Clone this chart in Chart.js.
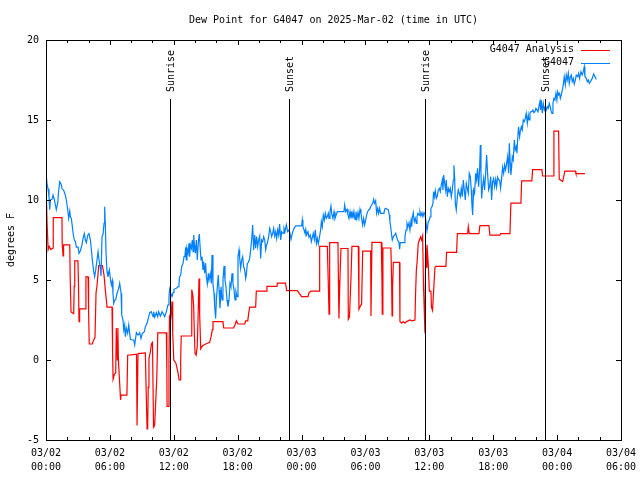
<!DOCTYPE html>
<html>
<head>
<meta charset="UTF-8">
<title>Dew Point for G4047</title>
<script src="https://cdn.jsdelivr.net/npm/chart.js@4.4.1/dist/chart.umd.min.js"></script>
<style>
  body { margin: 0; background: #fff; overflow: hidden; }
</style>
</head>
<body>
<canvas id="myChart" width="640" height="480"></canvas>
<script>
	// hours after 03/02 00:00 UTC
	let analysisTimes = [0.03,0.10,0.20,0.30,0.45,0.66,0.68,1.50,1.52,1.60,1.65,2.23,2.27,2.35,2.60,2.65,2.70,3.00,3.06,3.10,3.16,3.70,3.75,3.95,4.00,4.06,4.35,4.45,4.60,4.70,4.80,4.95,5.30,5.45,5.57,5.73,6.20,6.25,6.30,6.42,6.55,6.60,6.70,6.75,6.80,6.98,7.00,7.05,7.60,7.67,8.42,8.50,8.55,8.60,8.64,9.33,9.40,9.49,9.55,9.60,9.67,9.80,9.90,10.00,10.10,10.20,10.40,10.50,11.30,11.35,11.37,11.50,11.55,11.60,11.70,11.84,11.90,12.00,12.20,12.40,12.50,12.60,12.65,12.70,13.65,13.68,13.70,13.80,13.87,13.93,14.00,14.10,14.20,14.28,14.37,14.43,14.53,14.70,15.00,15.37,15.50,15.62,15.68,16.62,16.69,17.62,17.75,17.88,18.03,18.66,18.75,18.95,19.03,19.13,19.69,19.75,20.69,20.75,21.69,21.73,22.50,22.60,23.60,23.80,24.00,24.60,24.70,24.85,25.64,25.67,25.73,26.42,26.50,26.58,26.64,27.42,27.46,27.51,27.60,27.70,28.36,28.39,28.50,28.64,28.73,29.33,29.39,29.55,29.64,29.74,30.49,30.52,30.61,31.49,31.55,31.58,31.64,32.39,32.46,32.50,32.55,32.62,33.20,33.24,33.40,33.55,33.70,33.85,34.18,34.40,34.65,34.71,34.78,34.85,34.96,35.18,35.28,35.37,35.45,35.59,35.65,35.70,35.78,35.90,36.00,36.15,36.20,36.30,36.40,36.53,36.62,37.56,37.62,38.56,38.63,39.60,39.66,39.75,40.66,40.75,41.60,41.69,42.63,42.70,43.57,43.66,44.60,44.67,45.63,45.70,46.57,46.64,47.64,47.70,48.14,48.20,48.52,48.73,49.71,49.77,50.61];
	let analysisDew = [10.3,8.6,6.9,7.1,6.9,7.0,8.9,8.9,7.3,6.5,7.2,7.2,5.2,3.0,2.9,4.6,6.2,6.2,4.4,2.4,3.2,3.2,5.2,5.2,3.0,1.0,1.0,1.2,1.4,4.2,4.7,5.9,5.9,5.3,4.4,3.3,3.3,0.6,-1.2,-0.9,-0.8,2.0,0.0,2.0,0.0,-2.2,-2.5,-2.2,-2.2,0.3,0.35,0.35,-4.1,-4.1,0.4,0.45,-1.7,-4.3,-4.2,-1.7,0.1,0.5,1.0,1.1,-4.2,-4.1,-1.2,1.7,1.7,-0.6,-2.9,-2.9,0.1,2.7,2.5,3.65,1.7,0.0,-0.2,-0.8,-1.25,-1.25,0.1,1.5,1.5,2.9,4.4,4.0,3.3,1.7,0.4,0.3,0.8,2.6,5.1,2.9,0.7,0.9,1.0,1.1,1.45,1.9,2.4,2.4,2.0,2.0,2.2,2.45,2.25,2.25,2.45,2.45,2.9,3.3,3.3,4.3,4.3,4.6,4.6,4.8,4.8,4.33,4.33,4.15,3.96,3.96,4.2,4.3,4.3,5.7,7.1,7.1,5.1,2.86,7.33,7.33,5.0,2.6,5.0,6.97,6.97,2.55,2.7,5.1,7.1,7.1,3.17,3.4,3.5,6.8,6.8,2.75,7.35,7.35,5.0,2.86,7.0,7.0,4.9,2.75,4.6,6.1,6.1,2.4,2.3,2.4,2.3,2.4,2.5,2.45,2.5,4.2,5.6,6.1,7.3,7.7,7.5,7.75,4.7,1.67,7.0,5.8,7.2,6.0,4.3,4.3,3.3,3.1,4.3,5.8,5.85,5.85,6.73,6.73,7.9,7.9,8.33,7.9,7.9,8.4,8.4,7.8,7.8,7.9,7.9,9.8,9.8,11.2,11.2,11.9,11.9,11.5,11.5,14.3,14.3,11.3,11.15,11.8,11.8,11.65,11.65];

	let obsTimes = [0.03,0.10,0.19,0.28,0.35,0.41,0.57,0.66,0.79,0.88,0.97,1.10,1.19,1.29,1.41,1.51,1.66,1.82,1.91,2.04,2.13,2.23,2.29,2.38,2.48,2.54,2.66,2.76,2.85,3.01,3.10,3.23,3.38,3.48,3.60,3.70,3.79,3.92,4.04,4.17,4.26,4.35,4.48,4.57,4.67,4.79,4.89,4.98,5.10,5.17,5.26,5.36,5.45,5.51,5.57,5.64,5.73,5.82,5.95,6.04,6.14,6.23,6.29,6.36,6.45,6.54,6.67,6.83,6.92,7.05,7.11,7.23,7.30,7.39,7.45,7.55,7.67,7.77,7.86,7.92,8.08,8.24,8.33,8.39,8.49,8.64,8.80,8.92,9.05,9.24,9.33,9.49,9.58,9.74,9.89,10.05,10.11,10.21,10.36,10.49,10.58,10.74,10.90,11.15,11.30,11.46,11.55,11.61,11.71,11.83,11.93,12.02,12.24,12.40,12.49,12.55,12.65,12.74,12.87,12.96,13.05,13.12,13.18,13.24,13.34,13.43,13.49,13.56,13.65,13.74,13.81,13.87,13.93,14.03,14.12,14.21,14.31,14.40,14.49,14.56,14.65,14.74,14.81,14.90,14.99,15.06,15.15,15.25,15.31,15.43,15.53,15.59,15.68,15.78,15.84,15.93,16.00,16.09,16.18,16.25,16.34,16.44,16.53,16.62,16.72,16.81,16.90,17.00,17.09,17.19,17.28,17.37,17.47,17.56,17.66,17.75,17.84,17.94,18.03,18.13,18.19,18.28,18.38,18.47,18.56,18.66,18.75,18.81,18.91,19.00,19.13,19.22,19.31,19.41,19.50,19.60,19.69,19.78,19.88,19.97,20.07,20.16,20.25,20.35,20.44,20.54,20.63,20.72,20.82,20.91,21.01,21.10,21.19,21.29,21.38,21.48,21.57,21.66,21.76,21.85,21.94,22.04,22.13,22.26,22.35,22.44,22.57,22.69,22.82,22.91,23.01,23.13,23.23,23.35,23.45,24.01,24.07,24.13,24.23,24.32,24.39,24.48,24.60,24.70,24.82,24.92,25.01,25.10,25.20,25.29,25.39,25.48,25.57,25.70,25.79,25.86,25.95,26.04,26.14,26.23,26.33,26.42,26.51,26.58,26.67,26.76,26.83,26.95,27.05,27.14,27.36,27.98,28.05,28.14,28.27,28.36,28.45,28.55,28.64,28.74,28.83,28.92,29.02,29.11,29.20,29.30,29.39,29.49,29.58,29.64,29.74,29.83,29.92,30.02,30.11,30.21,30.30,30.39,30.49,30.58,30.68,30.77,30.86,30.96,31.05,31.15,31.24,31.33,31.43,31.74,31.80,31.90,32.05,32.15,32.24,32.30,32.37,32.46,32.52,32.62,32.74,32.84,32.93,33.02,33.15,33.21,33.27,33.65,33.71,33.81,33.90,33.99,34.09,34.18,34.28,34.34,34.40,34.49,34.59,34.68,34.78,34.84,34.93,35.03,35.12,35.21,35.31,35.40,35.50,35.59,35.68,35.78,35.84,35.90,36.00,36.09,36.15,36.25,36.34,36.40,36.47,36.56,36.65,36.75,36.84,36.94,37.03,37.12,37.22,37.28,37.34,37.44,37.53,37.59,37.69,37.78,37.87,37.97,38.06,38.16,38.25,38.31,38.38,38.44,38.53,38.63,38.72,38.81,38.91,39.00,39.10,39.19,39.28,39.38,39.47,39.57,39.66,39.75,39.85,39.94,40.00,40.07,40.16,40.25,40.35,40.44,40.53,40.63,40.72,40.79,40.85,40.91,41.00,41.10,41.19,41.29,41.38,41.47,41.57,41.66,41.76,41.85,41.94,42.04,42.13,42.23,42.32,42.41,42.51,42.60,42.69,42.79,42.88,42.98,43.07,43.16,43.26,43.35,43.45,43.51,43.60,43.66,43.73,43.79,43.88,43.98,44.07,44.17,44.23,44.29,44.38,44.48,44.54,44.64,44.73,44.82,44.92,45.01,45.10,45.20,45.29,45.36,45.45,45.54,45.64,45.73,45.82,45.92,46.01,46.11,46.20,46.29,46.39,46.45,46.51,46.61,46.70,46.80,46.89,46.98,47.08,47.17,47.26,47.36,47.45,47.52,47.61,47.70,47.80,47.89,47.98,48.05,48.14,48.23,48.30,48.39,48.49,48.58,48.67,48.77,48.86,48.95,49.05,49.14,49.24,49.33,49.42,49.52,49.61,49.71,49.80,49.93,50.02,50.11,50.24,50.36,50.46,50.55,50.61,50.74,50.83,50.93,51.02,51.18,51.30,51.43,51.55,51.68];
	let obsDew = [11.5,11.0,10.7,10.2,9.4,10.0,10.05,10.3,10.0,9.7,9.4,9.8,10.6,11.15,11.0,10.7,10.6,10.3,10.0,9.4,8.85,9.3,8.95,8.85,8.3,7.95,7.5,7.4,7.05,7.05,6.67,6.83,7.2,7.6,7.9,7.5,7.33,7.8,7.9,7.5,6.92,6.25,5.52,5.2,5.63,6.25,6.77,6.25,5.73,5.25,7.7,7.87,8.54,9.58,8.54,6.67,5.52,5.2,5.63,5.1,4.69,4.96,4.17,3.54,3.75,3.75,4.17,4.48,4.8,4.17,2.81,2.5,1.88,2.19,1.46,1.98,1.67,2.19,1.67,1.29,1.25,1.25,0.94,1.25,1.71,1.56,1.71,1.35,1.67,1.77,2.08,2.29,2.54,2.96,3.02,2.71,3.02,2.67,2.96,2.71,3.02,2.75,3.02,2.71,3.02,3.44,3.96,4.42,4.17,3.96,4.21,4.42,4.48,4.58,4.79,5.21,5.31,5.83,6.04,6.46,6.56,7.04,6.25,6.98,6.67,7.29,6.46,7.19,6.98,7.5,6.77,7.81,7.29,6.67,7.5,6.25,7.4,7.88,6.88,6.25,6.46,5.63,6.15,5.42,6.04,5.21,4.75,5.42,5.0,5.42,4.79,6.56,4.75,4.17,3.33,2.6,3.75,4.58,5.31,4.38,3.23,4.58,3.75,5.0,5.88,5.0,4.58,3.75,3.33,3.75,4.79,4.58,5.42,4.79,4.38,3.75,4.27,3.96,6.46,6.88,6.35,5.73,6.25,6.46,5.83,5.63,5.1,5.31,6.04,6.08,6.35,6.88,7.5,8.44,6.88,7.81,6.98,7.71,7.08,7.5,7.75,6.35,7.5,7.4,7.71,7.5,6.88,7.19,7.4,7.71,8.23,8.02,7.71,7.92,8.23,7.75,8.02,7.6,8.13,7.81,8.5,7.5,8.02,7.92,8.23,8.02,8.44,8.02,8.13,7.92,7.54,7.92,8.13,8.29,8.38,8.38,8.75,8.33,8.13,7.92,8.17,7.81,8.02,7.67,7.81,7.4,7.67,7.92,7.54,8.13,7.29,7.6,7.25,7.75,8.13,8.65,8.33,9.06,8.75,9.17,8.85,8.96,9.17,8.85,9.27,9.63,9.17,8.85,9.27,8.85,9.27,9.27,9.69,9.27,9.42,9.06,8.85,9.27,8.85,9.21,8.85,9.27,8.79,9.27,8.85,9.23,8.85,9.42,9.17,8.85,8.44,8.85,8.44,8.75,9.06,9.27,9.38,9.42,9.58,9.69,9.79,10.04,9.79,9.96,9.17,9.48,9.17,9.48,9.17,9.17,9.42,9.48,9.42,9.38,9.06,8.65,8.33,7.81,7.5,7.71,7.81,7.92,7.71,7.5,7.33,6.92,7.33,7.33,7.71,8.13,8.54,8.33,8.58,8.13,8.71,8.33,8.85,9.21,8.65,8.85,8.54,8.96,9.17,9.06,9.27,9.0,9.21,8.96,9.21,9.13,8.65,8.08,8.33,8.65,8.75,8.96,9.48,9.58,9.79,10.52,10.2,10.58,10.1,10.25,10.63,10.73,10.52,10.94,11.25,10.63,11.56,11.04,10.63,11.25,10.2,10.73,10.52,10.73,10.2,10.63,11.25,12.17,11.35,9.79,9.38,10.2,10.63,10.42,10.2,10.73,10.2,11.25,10.63,10.0,11.04,10.73,10.42,11.67,11.46,10.63,9.69,9.06,10.63,10.42,11.67,11.25,11.98,10.83,11.88,13.44,11.77,10.1,10.83,11.35,10.63,11.67,12.81,11.67,10.63,10.83,11.46,10.0,11.15,11.35,10.83,11.29,10.83,11.42,11.25,11.25,10.73,11.35,12.04,11.67,12.19,11.88,12.29,12.71,11.67,13.54,12.29,11.56,12.08,12.71,12.5,13.75,13.13,13.33,12.92,13.75,14.58,13.96,14.27,14.58,14.38,15.0,14.9,15.1,15.42,14.79,15.31,15.0,15.42,15.52,15.52,15.63,15.46,15.52,15.73,15.63,15.52,15.83,16.15,15.63,16.25,15.42,16.04,15.63,15.83,15.63,15.83,15.73,16.04,15.83,15.52,15.42,16.04,16.35,16.25,16.67,16.25,16.77,16.56,16.67,16.35,16.56,16.88,17.19,17.71,17.19,17.81,17.5,17.92,17.29,17.71,17.81,17.4,17.6,17.25,17.5,17.81,17.71,17.92,17.6,18.02,17.81,18.02,18.33,17.71,17.6,17.4,17.5,17.29,17.46,17.6,17.88,17.71,17.54];

	let sunTimes = [11.65, 22.84, 35.62, 46.9];
	let sunLabels = ['Sunrise', 'Sunset', 'Sunrise', 'Sunset'];
	let sunTop = 16.3;

	let yTicks = [-5, 0, 5, 10, 15, 20];
	let seriesNames = ['G4047 Analysis', 'G4047'];
	let seriesColors = ['#ff0000', '#0080ff'];

	const FONT = '"DejaVu Sans Mono", "Liberation Mono", monospace';

	function pts(t, v) {
		return t.map(function(x, i){ return {x: x, y: v[i]}; });
	}

	// gnuplot style border, inward ticks, sun markers, title, legend
	const decor = {
		id: 'decor',
		afterDatasetsDraw(chart) {
			const ctx = chart.ctx;
			const a = chart.chartArea;
			const x = chart.scales.x, y = chart.scales.y;
			ctx.save();
			ctx.strokeStyle = '#000';
			ctx.fillStyle = '#000';
			ctx.lineWidth = 1;
			ctx.font = '10px ' + FONT;

			// sunrise / sunset lines
			sunTimes.forEach(function(t, i){
				const px = Math.round(x.getPixelForValue(t)) + 0.5;
				const top = Math.round(y.getPixelForValue(sunTop));
				ctx.beginPath();
				ctx.moveTo(px, a.bottom);
				ctx.lineTo(px, top);
				ctx.stroke();
				ctx.save();
				ctx.translate(px + 1, top - 7);
				ctx.rotate(-Math.PI / 2);
				ctx.textAlign = 'left';
				ctx.textBaseline = 'middle';
				ctx.fillText(sunLabels[i], 0, 0);
				ctx.restore();
			});

			// frame
			ctx.strokeRect(a.left + 0.5, a.top + 0.5, a.right - a.left, a.bottom - a.top);

			// x ticks every 2 h, major every 6 h
			ctx.beginPath();
			for (let h = 0; h <= 54; h += 2) {
				const px = Math.round(x.getPixelForValue(h)) + 0.5;
				const len = (h % 6 === 0) ? 5 : 3;
				ctx.moveTo(px, a.bottom); ctx.lineTo(px, a.bottom - len);
				ctx.moveTo(px, a.top); ctx.lineTo(px, a.top + len);
			}
			yTicks.forEach(function(v){
				const py = Math.round(y.getPixelForValue(v)) + 0.5;
				ctx.moveTo(a.left, py); ctx.lineTo(a.left + 5, py);
				ctx.moveTo(a.right, py); ctx.lineTo(a.right - 5, py);
			});
			ctx.stroke();

			// legend
			ctx.textAlign = 'right';
			ctx.textBaseline = 'middle';
			seriesNames.forEach(function(name, i){
				const ly = a.top + 9.5 + i * 13;
				ctx.fillStyle = '#000';
				ctx.fillText(name, a.right - 47, ly);
				ctx.strokeStyle = seriesColors[i];
				ctx.beginPath();
				ctx.moveTo(a.right - 40, Math.round(ly) + 0.5);
				ctx.lineTo(a.right - 11, Math.round(ly) + 0.5);
				ctx.stroke();
			});

			// title and y label
			ctx.fillStyle = '#000';
			ctx.textAlign = 'center';
			ctx.fillText('Dew Point for G4047 on 2025-Mar-02 (time in UTC)', (a.left + a.right) / 2, 20);
			ctx.save();
			ctx.translate(11, (a.top + a.bottom) / 2);
			ctx.rotate(-Math.PI / 2);
			ctx.fillText('degrees F', 0, 0);
			ctx.restore();
			ctx.restore();
		}
	};

	new Chart('myChart', {
		type: 'line',
		data: {
			datasets: [{
				label: seriesNames[0],
				data: pts(analysisTimes, analysisDew),
				borderColor: seriesColors[0],
				borderWidth: 1.2,
				pointRadius: 0,
				tension: 0,
				order: 2
			}, {
				label: seriesNames[1],
				data: pts(obsTimes, obsDew),
				borderColor: seriesColors[1],
				borderWidth: 1.2,
				pointRadius: 0,
				tension: 0,
				order: 1
			}]
		},
		options: {
			responsive: false,
			animation: false,
			layout: { padding: { top: 40, right: 19, left: 0, bottom: 0 } },
			plugins: { legend: { display: false }, tooltip: { enabled: false } },
			scales: {
				x: {
					type: 'linear', min: 0, max: 54,
					grid: { display: false, drawTicks: false },
					border: { display: false },
					afterFit: function(s){ s.height = 40; s.paddingLeft = 0; s.paddingRight = 0; },
					ticks: {
						stepSize: 6, padding: 7, maxRotation: 0, autoSkip: false, color: '#000',
						font: { family: FONT, size: 10, lineHeight: 1.33 },
						callback: function(v){
							const day = 2 + Math.floor(v / 24);
							const hh = v % 24;
							return ['03/0' + day, (hh < 10 ? '0' : '') + hh + ':00'];
						}
					}
				},
				y: {
					min: -5, max: 20,
					grid: { display: false, drawTicks: false },
					border: { display: false },
					afterFit: function(s){ s.width = 46; s.paddingTop = 0; s.paddingBottom = 0; },
					ticks: { stepSize: 5, padding: 7, color: '#000', font: { family: FONT, size: 10 } }
				}
			}
		},
		plugins: [decor]
	});
</script>
</body>
</html>
